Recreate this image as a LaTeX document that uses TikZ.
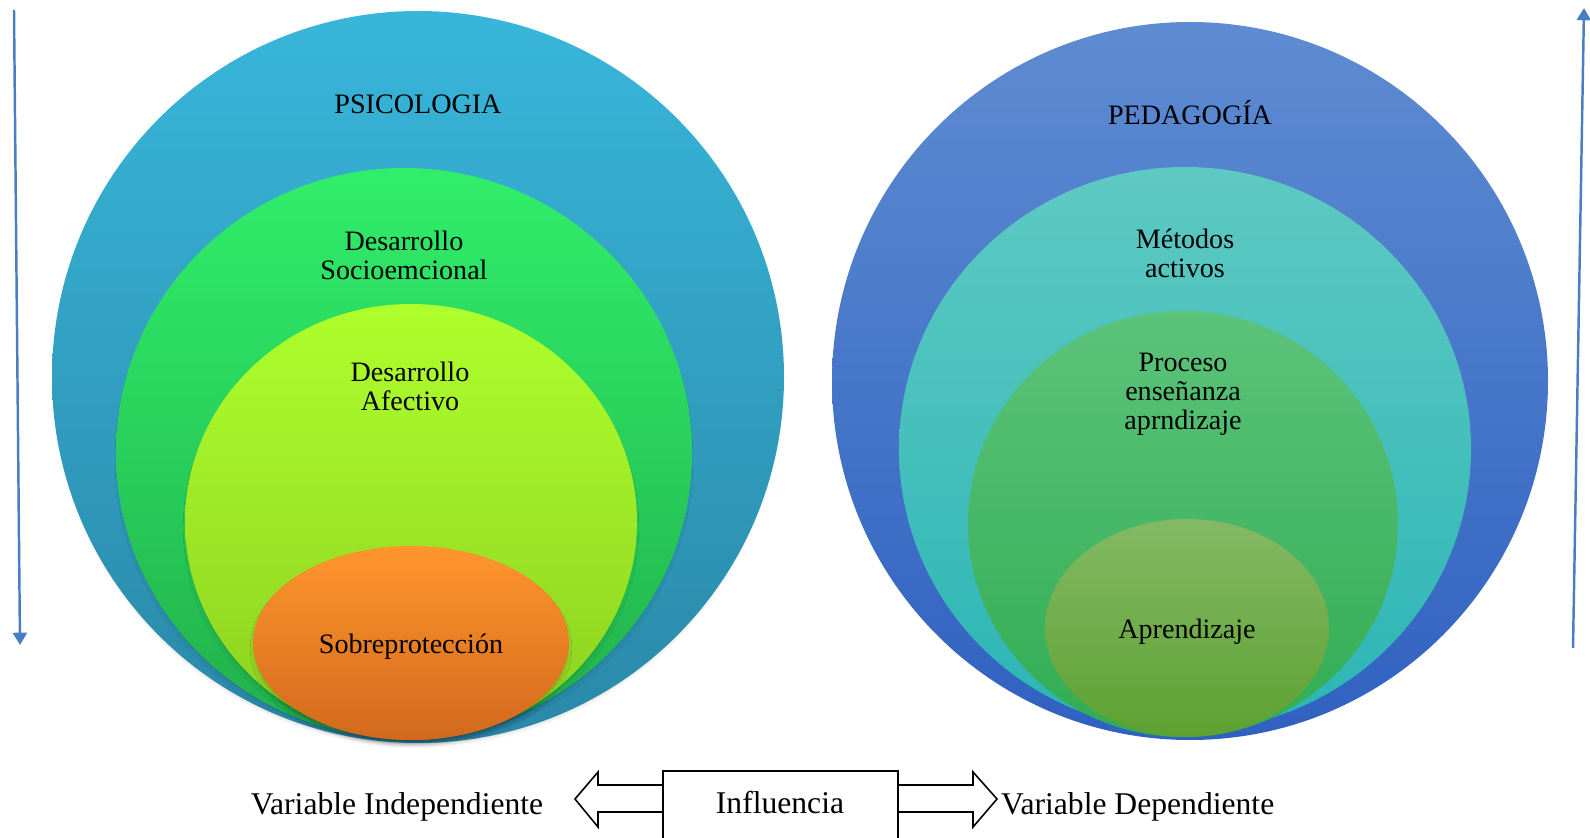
\documentclass[tikz,border=0pt]{standalone}
\usepackage{fontspec}
\setmainfont{Liberation Serif}
\usetikzlibrary{arrows.meta}
\usetikzlibrary{shadows.blur}

\definecolor{psiTop}{HTML}{38B6DA}
\definecolor{psiBot}{HTML}{2A88A8}
\definecolor{socTop}{HTML}{30EE6A}
\definecolor{socBot}{HTML}{21B04B}
\definecolor{afeTop}{HTML}{AEFF2C}
\definecolor{afeBot}{HTML}{8CCF20}
\definecolor{sobTop}{HTML}{FF962C}
\definecolor{sobBot}{HTML}{D2681C}
\definecolor{pedTop}{HTML}{5E8CD2}
\definecolor{pedBot}{HTML}{3061C0}
\definecolor{metTop}{HTML}{5EC9C2}
\definecolor{metBot}{HTML}{2BB5B5}
\definecolor{proTop}{HTML}{5CC37A}
\definecolor{proBot}{HTML}{31AC53}
\definecolor{aprTop}{HTML}{83B964}
\definecolor{aprBot}{HTML}{5DA131}
\definecolor{flecha}{HTML}{4A7EC0}

\tikzset{
  lbl/.style={align=center, font=\fontsize{16}{16.5}\selectfont},
  foot/.style={font=\fontsize{18}{20}\selectfont},
  vflecha/.style={draw=flecha, line width=1.4pt, -{Triangle[width=8pt,length=7pt]}},
  hueco/.style={draw=black, fill=white, line width=0.9pt, line join=miter},
  sombra/.style={blur shadow={shadow xshift=0pt, shadow yshift=-3pt, shadow scale=0.985, shadow blur radius=3pt, shadow opacity=25}},
}

\begin{document}
\begin{tikzpicture}[x=0.02cm, y=-0.02cm]
            \useasboundingbox (0,0) rectangle (1590,838);
            % centros de los circulos
            \coordinate (psi) at (418,377);
            \coordinate (soc) at (404,453);
            \coordinate (afe) at (411,522);
            \coordinate (sob) at (411,643);
            \coordinate (ped) at (1190,381);
            \coordinate (met) at (1185,449);
            \coordinate (pro) at (1183,524);
            \coordinate (apr) at (1187,628);
            % izquierda
            \path[sombra, top color=psiTop, bottom color=psiBot] (psi) ellipse [x radius=366, y radius=366];
            \path[sombra, top color=socTop, bottom color=socBot] (soc) ellipse [x radius=288, y radius=285];
            \path[sombra, top color=afeTop, bottom color=afeBot] (afe) ellipse [x radius=226, y radius=218];
            \path[sombra, top color=sobTop, bottom color=sobBot] (sob) ellipse [x radius=158, y radius=97];
            % derecha
            \path[top color=pedTop, bottom color=pedBot] (ped) ellipse [x radius=358, y radius=359];
            \path[top color=metTop, bottom color=metBot] (met) ellipse [x radius=286, y radius=282];
            \path[top color=proTop, bottom color=proBot] (pro) ellipse [x radius=215, y radius=213];
            \path[top color=aprTop, bottom color=aprBot] (apr) ellipse [x radius=142, y radius=109];
            % textos
            \node[lbl] (tpsi) at (418,104) {PSICOLOGIA};
            \node[lbl] (tsoc) at (404,255) {Desarrollo\\Socioemcional};
            \node[lbl] (tafe) at (410,386) {Desarrollo\\Afectivo};
            \node[lbl] (tsob) at (411,647) {Sobreprotección};
            \node[lbl] (tped) at (1190,113) {PEDAGOGÍA};
            \node[lbl] (tmet) at (1185,253) {Métodos\\activos};
            \node[lbl] (tpro) at (1183,394) {Proceso\\enseñanza\\aprndizaje};
            \node[lbl] (tapr) at (1187,632) {Aprendizaje};
            % flechas laterales
            \coordinate (lA) at (14,10);
            \coordinate (lB) at (20,645);
            \coordinate (rA) at (1573,648);
            \coordinate (rB) at (1584,8);
            \draw[vflecha] (lA) -- (lB);
            \draw[vflecha] (rA) -- (rB);
            % influencia
            \coordinate (bA) at (663,845);
            \coordinate (bB) at (663,771);
            \coordinate (bC) at (898,771);
            \coordinate (bD) at (898,845);
            \draw[hueco] (663,785) -- (598,785) -- (598,772) -- (575,799) -- (598,827) -- (598,812) -- (663,812);
            \draw[hueco] (898,785) -- (973,785) -- (973,772) -- (997,799) -- (973,827) -- (973,812) -- (898,812);
            \draw[line width=0.9pt] (bA) -- (bB) -- (bC) -- (bD);
            \node[foot] (inf) at (780,803) {Influencia};
            \node[foot] (vind) at (397,807) {Variable Independiente};
            \node[foot, anchor=west] (vdep) at (995,807) {Variable Dependiente};
        \end{tikzpicture}
\end{document}
